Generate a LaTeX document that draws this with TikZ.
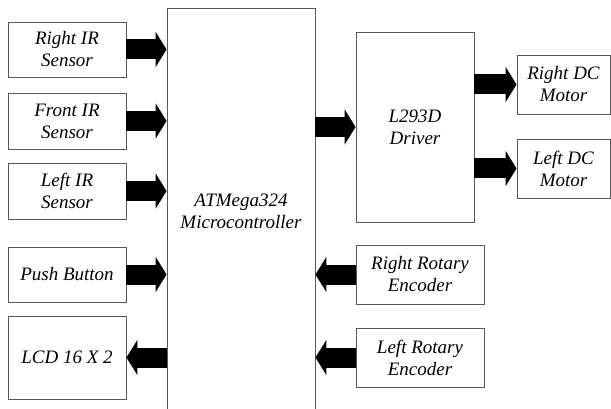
\documentclass[tikz,border=0pt]{standalone}
\usepackage{fontspec}
\setmainfont{Liberation Serif}
\usetikzlibrary{arrows.meta,positioning}

\begin{document}
\begin{tikzpicture}[x=1pt,y=-1pt,
  box/.style={draw=black!65,line width=0.9pt,align=center,inner sep=0pt,
    font=\itshape\fontsize{19}{22}\selectfont,minimum width=118pt,minimum height=56pt},
  arr/.style={-{Triangle[length=11pt,width=35pt]},line width=20pt,black}
]
  \useasboundingbox (0,0) rectangle (611,409);
  % inputs on the left
  \node[box,minimum height=55pt] (rir) at (67,49.5) {Right IR\\Sensor};
  \node[box] (fir) at (67,121) {Front IR\\Sensor};
  \node[box] (lir) at (67,191) {Left IR\\Sensor};
  \node[box,minimum height=55pt] (push) at (67,274.5) {Push Button};
  \node[box,minimum height=83pt] (lcd) at (67,357.5) {LCD 16 X 2};
  % controller and driver
  \node[box,minimum width=148pt,minimum height=406pt] (mcu) at (241,211) {ATMega324\\Microcontroller};
  \node[box,minimum height=190pt] (drv) at (415,127) {L293D\\Driver};
  % outputs on the right
  \node[box,minimum width=93pt,minimum height=59pt] (rdc) at (563.5,84.5) {Right DC\\Motor};
  \node[box,minimum width=93pt,minimum height=59pt] (ldc) at (563.5,168.5) {Left DC\\Motor};
  \node[box,minimum width=128pt,minimum height=59pt] (rre) at (420,274.5) {Right Rotary\\Encoder};
  \node[box,minimum width=128pt,minimum height=59pt] (lre) at (420,357.5) {Left Rotary\\Encoder};
  % arrows
  \draw[arr] (rir.east) -- (mcu.west |- rir.east);
  \draw[arr] (fir.east) -- (mcu.west |- fir.east);
  \draw[arr] (lir.east) -- (mcu.west |- lir.east);
  \draw[arr] (push.east) -- (mcu.west |- push.east);
  \draw[arr] (mcu.west |- lcd.east) -- (lcd.east);
  \draw[arr] (mcu.east |- drv.west) -- (drv.west);
  \draw[arr] (drv.east |- rdc.west) -- (rdc.west);
  \draw[arr] (drv.east |- ldc.west) -- (ldc.west);
  \draw[arr] (rre.west) -- (mcu.east |- rre.west);
  \draw[arr] (lre.west) -- (mcu.east |- lre.west);
\end{tikzpicture}
\end{document}
